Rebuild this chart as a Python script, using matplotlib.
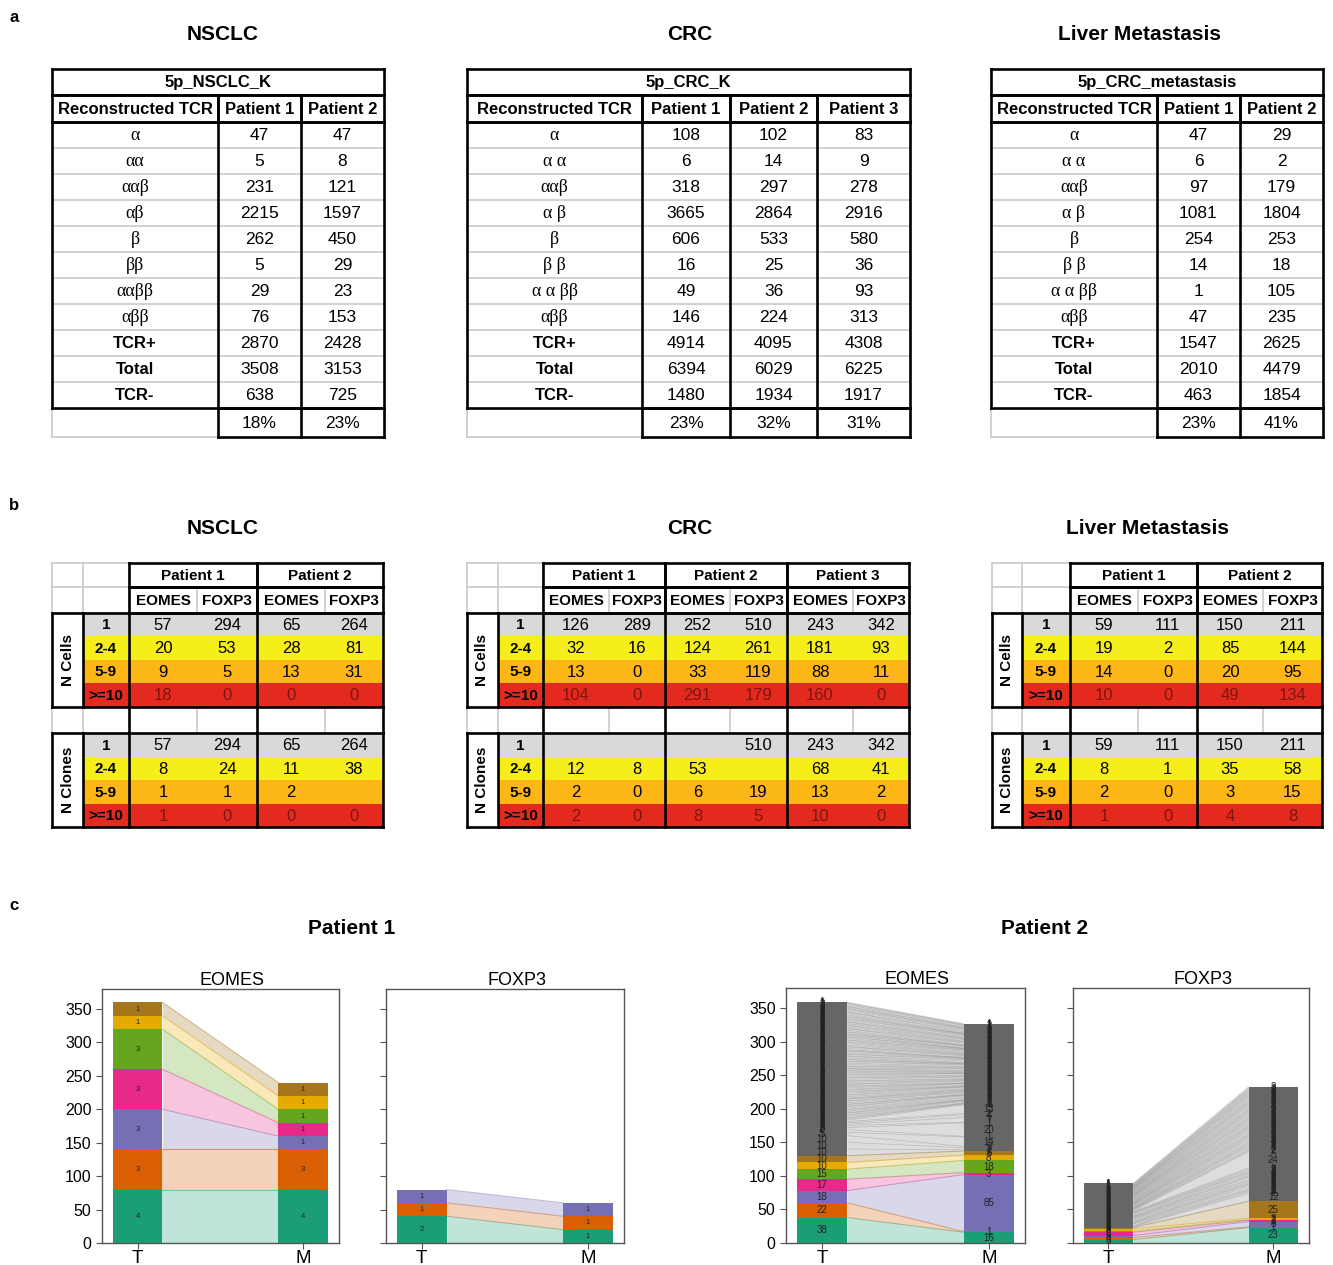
import matplotlib
matplotlib.use('Agg')
import matplotlib.pyplot as plt
from matplotlib.patches import Rectangle
import numpy as np

plt.rcParams['font.family'] = ['Liberation Sans', 'DejaVu Sans']

W, H = 1333, 1265

# ---------------- panel a data ----------------
tcr_rows_nsclc = ['α', 'αα', 'ααβ', 'αβ', 'β', 'ββ', 'ααββ', 'αββ', 'TCR+', 'Total', 'TCR-']
tcr_rows_crc = ['α', 'α α', 'ααβ', 'α β', 'β', 'β β', 'α α ββ', 'αββ', 'TCR+', 'Total', 'TCR-']
nsclc_a_patients = ['Patient 1', 'Patient 2']
nsclc_a_p1 = [47, 5, 231, 2215, 262, 5, 29, 76, 2870, 3508, 638]
nsclc_a_p2 = [47, 8, 121, 1597, 450, 29, 23, 153, 2428, 3153, 725]
nsclc_a_pct = ['18%', '23%']
crc_a_patients = ['Patient 1', 'Patient 2', 'Patient 3']
crc_a_p1 = [108, 6, 318, 3665, 606, 16, 49, 146, 4914, 6394, 1480]
crc_a_p2 = [102, 14, 297, 2864, 533, 25, 36, 224, 4095, 6029, 1934]
crc_a_p3 = [83, 9, 278, 2916, 580, 36, 93, 313, 4308, 6225, 1917]
crc_a_pct = ['23%', '32%', '31%']
liver_a_patients = ['Patient 1', 'Patient 2']
liver_a_p1 = [47, 6, 97, 1081, 254, 14, 1, 47, 1547, 2010, 463]
liver_a_p2 = [29, 2, 179, 1804, 253, 18, 105, 235, 2625, 4479, 1854]
liver_a_pct = ['23%', '41%']

# ---------------- panel b data ----------------
size_bins = ['1', '2-4', '5-9', '>=10']
nsclc_cells_E = [[57, 20, 9, 18], [65, 28, 13, 0]]
nsclc_cells_F = [[294, 53, 5, 0], [264, 81, 31, 0]]
nsclc_clones_E = [[57, 8, 1, 1], [65, 11, 2, 0]]
nsclc_clones_F = [[294, 24, 1, 0], [264, 38, None, 0]]
crc_cells_E = [[126, 32, 13, 104], [252, 124, 33, 291], [243, 181, 88, 160]]
crc_cells_F = [[289, 16, 0, 0], [510, 261, 119, 179], [342, 93, 11, 0]]
crc_clones_E = [[None, 12, 2, 2], [None, 53, 6, 8], [243, 68, 13, 10]]
crc_clones_F = [[None, 8, 0, 0], [510, None, 19, 5], [342, 41, 2, 0]]
liver_cells_E = [[59, 19, 14, 10], [150, 85, 20, 49]]
liver_cells_F = [[111, 2, 0, 0], [211, 144, 95, 134]]
liver_clones_E = [[59, 8, 2, 1], [150, 35, 3, 4]]
liver_clones_F = [[111, 1, 0, 0], [211, 58, 15, 8]]

# ---------------- panel c data ----------------
p1_eomes_T = [80, 60, 60, 60, 60, 20, 20]
p1_eomes_M = [80, 60, 20, 20, 20, 20, 20]
p1_eomes_T_lab = [4, 3, 3, 3, 3, 1, 1]
p1_eomes_M_lab = [4, 3, 1, 1, 1, 1, 1]
p1_foxp3_T = [40, 20, 20]
p1_foxp3_M = [20, 20, 20]
p1_foxp3_T_lab = [2, 1, 1]
p1_foxp3_M_lab = [1, 1, 1]

p2_eomes_T_col = [38, 22, 18, 17, 15, 10, 10]
p2_eomes_M_col = [16, 1, 85, 3, 18, 8, 6]
p2_eomes_T_gray = [10, 10, 10, 5, 4, 3, 3, 2, 2, 2, 2,
                   2, 1, 2, 2, 1, 2, 1, 2, 2, 1,
                   2, 2, 1, 2, 1, 2, 2, 1, 2, 1,
                   1, 2, 2, 1, 2, 2, 1, 2, 1, 2,
                   2, 1, 2, 1, 2, 2, 1, 2, 2, 1,
                   2, 2, 1, 2, 2, 1, 2, 1, 1, 2,
                   1, 2, 2, 2, 1, 2, 1, 2, 2, 1,
                   2, 1, 2, 2, 1, 1, 2, 2, 1, 2,
                   2, 2, 1, 2, 1, 2, 2, 1, 2, 1,
                   1, 2, 1, 2, 2, 1, 2, 2, 1, 2,
                   2, 1, 2, 2, 1, 2, 1, 2, 2, 2,
                   1, 2, 2, 1, 2, 1, 2, 2, 1, 1]
p2_eomes_M_gray = [2, 3, 2, 14, 1, 20, 1, 7, 4, 2, 13,
                   1, 1, 0, 1, 2, 1, 1, 0, 1, 2,
                   1, 2, 1, 1, 0, 1, 2, 1, 1, 1,
                   1, 1, 1, 2, 1, 0, 1, 1, 2, 1,
                   0, 1, 2, 1, 1, 1, 1, 2, 1, 1,
                   1, 2, 1, 0, 1, 1, 1, 1, 2, 1,
                   1, 1, 1, 2, 1, 1, 0, 1, 1, 2,
                   2, 1, 1, 1, 0, 1, 2, 1, 1, 1,
                   1, 1, 2, 1, 1, 1, 1, 0, 1, 2,
                   1, 0, 1, 1, 2, 1, 1, 1, 2, 1,
                   1, 1, 1, 2, 1, 1, 1, 0, 1, 2,
                   1, 2, 1, 1, 1, 1, 2, 1, 1, 1]

p2_foxp3_T_col = [5, 3, 3, 5, 2, 3, 2]
p2_foxp3_M_col = [23, 1, 8, 2, 1, 2, 25]
p2_foxp3_T_gray = [1,
                   1, 1, 2, 1, 1, 1, 1, 1, 2, 1, 1, 1, 1, 1, 1, 2, 1, 1, 1, 1,
                   1,
                   1, 1, 1, 0, 1, 1, 1, 1, 1, 1,
                   1, 1, 0, 1, 1, 1, 1, 1, 1, 1,
                   1, 1, 1, 1, 1, 0, 1, 1, 1, 1,
                   1, 1, 1, 1, 1, 1, 1, 0, 1, 1,
                   1, 1, 1, 1, 1]
p2_foxp3_M_gray = [12,
                   2, 2, 1, 2, 3, 2, 2, 1, 2, 2, 2, 3, 1, 2, 2, 2, 1, 2, 2, 2,
                   24,
                   2, 2, 3, 2, 2, 2, 2, 3, 2, 2,
                   2, 2, 2, 3, 2, 2, 2, 2, 2, 3,
                   2, 2, 2, 2, 3, 2, 2, 2, 2, 2,
                   3, 2, 2, 2, 2, 2, 3, 2, 2, 2,
                   2, 2, 2, 2, 2]

dark2 = ['#1b9e77', '#d95f02', '#7570b3', '#e7298a', '#66a61e', '#e6ab02', '#a6761d']
gray_col = '#666666'

# ---------------- figure ----------------
fig = plt.figure(figsize=(W / 100, H / 100), dpi=100)
ax0 = fig.add_axes([0, 0, 1, 1])
ax0.set_xlim(0, W)
ax0.set_ylim(H, 0)
ax0.axis('off')

THICK = 1.9
THIN_C = '#c9c9c9'


def hl(y, x0, x1, lw=THICK, c='black'):
    ax0.plot([x0, x1], [y, y], color=c, lw=lw, solid_capstyle='projecting', zorder=3 if c == 'black' else 2)


def vl(x, y0, y1, lw=THICK, c='black'):
    ax0.plot([x, x], [y0, y1], color=c, lw=lw, solid_capstyle='projecting', zorder=3 if c == 'black' else 2)


def box(x0, y0, x1, y1, lw=THICK, c='black'):
    hl(y0, x0, x1, lw, c); hl(y1, x0, x1, lw, c); vl(x0, y0, y1, lw, c); vl(x1, y0, y1, lw, c)


def txt(x, y, s, **kw):
    ax0.text(x, y, s, ha='center', va='center', zorder=4, **kw)


# panel letters and section titles
for lt, yy in (('a', 18), ('b', 505), ('c', 905)):
    ax0.text(14, yy, lt, ha='center', va='center', fontsize=12, fontweight='bold')
for name, xx in (('NSCLC', 223), ('CRC', 690), ('Liver Metastasis', 1140)):
    txt(xx, 34, name, fontsize=15, fontweight='bold')
for name, xx in (('NSCLC', 223), ('CRC', 690), ('Liver Metastasis', 1148)):
    txt(xx, 528, name, fontsize=15, fontweight='bold')
txt(352, 928, 'Patient 1', fontsize=15, fontweight='bold')
txt(1045, 928, 'Patient 2', fontsize=15, fontweight='bold')


# ---------------- table a ----------------
def table_a(xe, title, patients, cols, pcts, rowlabels):
    x0, xN = xe[0], xe[-1]
    yt0, yt1, yh1 = 69, 95, 122
    rh = 26
    nrow = len(rowlabels)
    yb1 = yh1 + rh * nrow
    yp1 = yb1 + 29
    for k in range(1, nrow):
        hl(yh1 + rh * k, x0, xN, lw=1.2, c=THIN_C)
    vl(x0, yb1, yp1, lw=1.2, c=THIN_C)
    hl(yp1, x0, xe[1], lw=1.2, c=THIN_C)
    box(x0, yt0, xN, yt1)
    for i in range(len(xe) - 1):
        box(xe[i], yt1, xe[i + 1], yh1)
    box(x0, yh1, xN, yb1)
    for x in xe[1:-1]:
        vl(x, yh1, yb1)
    box(xe[1], yb1, xN, yp1)
    for x in xe[2:-1]:
        vl(x, yb1, yp1)
    txt((x0 + xN) / 2, (yt0 + yt1) / 2, title, fontsize=12, fontweight='bold')
    heads = ['Reconstructed TCR'] + patients
    for i, h in enumerate(heads):
        txt((xe[i] + xe[i + 1]) / 2, (yt1 + yh1) / 2 + 1, h, fontsize=12, fontweight='bold')
    for k, lab in enumerate(rowlabels):
        yc = yh1 + rh * (k + 0.5) + 1
        if k < 8:
            txt((xe[0] + xe[1]) / 2, yc, lab, fontsize=13, family='Liberation Serif')
        else:
            txt((xe[0] + xe[1]) / 2, yc, lab, fontsize=12, fontweight='bold')
        for j, col in enumerate(cols):
            txt((xe[j + 1] + xe[j + 2]) / 2, yc, str(col[k]), fontsize=12.5)
    for j, p in enumerate(pcts):
        txt((xe[j + 1] + xe[j + 2]) / 2, (yb1 + yp1) / 2 + 1, p, fontsize=12.5)


table_a([52, 218, 301, 384], '5p_NSCLC_K', nsclc_a_patients, [nsclc_a_p1, nsclc_a_p2], nsclc_a_pct, tcr_rows_nsclc)
table_a([467, 642, 730, 817, 910], '5p_CRC_K', crc_a_patients, [crc_a_p1, crc_a_p2, crc_a_p3], crc_a_pct, tcr_rows_crc)
table_a([991, 1157, 1240, 1323], '5p_CRC_metastasis', liver_a_patients, [liver_a_p1, liver_a_p2], liver_a_pct, tcr_rows_crc)

# ---------------- table b ----------------
row_fill = ['#d9d9d9', '#f6ee1a', '#fcb615', '#e42a1f']
red_text = '#7e1510'


def table_b(xe, patients, cE, cF, kE, kF):
    x0, c1, c2, xN = xe[0], xe[1], xe[2], xe[-1]
    npat = len(patients)
    pstart = [xe[2 + 2 * i] for i in range(npat)]
    pmid = [xe[3 + 2 * i] for i in range(npat)]
    pend = [xe[4 + 2 * i] for i in range(npat)]
    yP0, yP1, yH1 = 563, 587, 612.5
    rh = 23.5
    ycells = yH1
    yblank0 = ycells + 4 * rh
    yblank1 = yblank0 + 26.5
    yclones = yblank1
    # light grid
    box(x0, yP0, c2, yH1, lw=1.2, c=THIN_C)
    vl(c1, yP0, yH1, lw=1.2, c=THIN_C)
    hl(yP1, x0, c2, lw=1.2, c=THIN_C)
    for m in pmid:
        vl(m, yP1, yH1, lw=1.2, c=THIN_C)
        vl(m, yblank0, yblank1, lw=1.2, c=THIN_C)
    vl(x0, yblank0, yblank1, lw=1.2, c=THIN_C)
    vl(c1, yblank0, yblank1, lw=1.2, c=THIN_C)
    # fills
    for ytop in (ycells, yclones):
        for k in range(4):
            ax0.add_patch(Rectangle((c1, ytop + k * rh), xN - c1, rh, facecolor=row_fill[k],
                                    edgecolor='none', zorder=1))
    # thick borders
    for i in range(npat):
        box(pstart[i], yP0, pend[i], yP1)
        box(pstart[i], yP1, pend[i], yH1)
        vl(pstart[i], yblank0, yblank1)
    vl(xN, yblank0, yblank1)
    for ytop in (ycells, yclones):
        box(x0, ytop, xN, ytop + 4 * rh)
        vl(c1, ytop, ytop + 4 * rh)
        for p in pstart:
            vl(p, ytop, ytop + 4 * rh)
    # texts
    for i, p in enumerate(patients):
        txt((pstart[i] + pend[i]) / 2, (yP0 + yP1) / 2 + 1, p, fontsize=11, fontweight='bold')
        txt((pstart[i] + pmid[i]) / 2, (yP1 + yH1) / 2 + 1, 'EOMES', fontsize=11, fontweight='bold')
        txt((pmid[i] + pend[i]) / 2, (yP1 + yH1) / 2 + 1, 'FOXP3', fontsize=11, fontweight='bold')
    for ytop, lab, E, F in ((ycells, 'N Cells', cE, cF), (yclones, 'N Clones', kE, kF)):
        txt((x0 + c1) / 2, ytop + 2 * rh, lab, fontsize=11, fontweight='bold', rotation=90)
        for k in range(4):
            yc = ytop + (k + 0.5) * rh + 1
            txt((c1 + c2) / 2, yc, size_bins[k], fontsize=11, fontweight='bold')
            colr = red_text if k == 3 else 'black'
            for i in range(npat):
                if E[i][k] is not None:
                    txt((pstart[i] + pmid[i]) / 2, yc, str(E[i][k]), fontsize=12, color=colr)
                if F[i][k] is not None:
                    txt((pmid[i] + pend[i]) / 2, yc, str(F[i][k]), fontsize=12, color=colr)


table_b([52, 83, 129, 197, 257, 325, 383], ['Patient 1', 'Patient 2'],
        nsclc_cells_E, nsclc_cells_F, nsclc_clones_E, nsclc_clones_F)
table_b([467, 498, 543, 609, 665, 730, 787, 853, 909], ['Patient 1', 'Patient 2', 'Patient 3'],
        crc_cells_E, crc_cells_F, crc_clones_E, crc_clones_F)
table_b([992, 1022, 1070, 1138, 1197, 1263, 1322], ['Patient 1', 'Patient 2'],
        liver_cells_E, liver_cells_F, liver_clones_E, liver_clones_F)


# ---------------- panel c ----------------
def px_axes(l, t, r, b):
    return fig.add_axes([l / W, 1 - b / H, (r - l) / W, (b - t) / H])


def alluvial(ax, T, M, colors, Tlab, Mlab, fs, w=0.3):
    T = np.asarray(T, float)
    M = np.asarray(M, float)
    tb = np.concatenate([[0], np.cumsum(T)[:-1]])
    mb = np.concatenate([[0], np.cumsum(M)[:-1]])
    ax.bar(np.zeros(len(T)), T, width=w, bottom=tb, color=colors, linewidth=0, zorder=2)
    ax.bar(np.ones(len(M)), M, width=w, bottom=mb, color=colors, linewidth=0, zorder=2)
    xs = [w / 2, 1 - w / 2]
    for i in range(len(T)):
        is_gray = colors[i] == gray_col
        ax.fill_between(xs, [tb[i], mb[i]], [tb[i] + T[i], mb[i] + M[i]], color=colors[i],
                        alpha=0.22 if is_gray else 0.27, linewidth=0, zorder=1)
        ax.plot(xs, [tb[i] + T[i], mb[i] + M[i]], color=colors[i],
                alpha=0.3 if is_gray else 0.45, lw=0.5 if is_gray else 0.8, zorder=1)
    for i in range(len(T)):
        if Tlab[i]:
            ax.text(0, tb[i] + T[i] / 2, str(Tlab[i]), ha='center', va='center', fontsize=fs,
                    color='#222222', zorder=3)
        if Mlab[i]:
            ax.text(1, mb[i] + M[i] / 2, str(Mlab[i]), ha='center', va='center', fontsize=fs,
                    color='#222222', zorder=3)


def style(ax, title, show_labels):
    ax.set_xlim(-0.215, 1.217)
    ax.set_ylim(0, 380)
    ax.set_yticks([0, 50, 100, 150, 200, 250, 300, 350])
    if not show_labels:
        ax.set_yticklabels([])
    ax.set_xticks([0, 1])
    ax.set_xticklabels(['T', 'M'], fontsize=13.5)
    ax.tick_params(axis='y', labelsize=11.5, color='#555555', length=4)
    ax.tick_params(axis='x', color='#555555', length=4, pad=1)
    for s in ax.spines.values():
        s.set_color('#555555')
        s.set_linewidth(1.0)
    ax.set_title(title, fontsize=13, pad=3, x=0.55)


ax1 = px_axes(102, 989, 339, 1243)
alluvial(ax1, p1_eomes_T, p1_eomes_M, dark2, p1_eomes_T_lab, p1_eomes_M_lab, 5.5)
style(ax1, 'EOMES', True)

ax2 = px_axes(386, 989, 624, 1243)
alluvial(ax2, p1_foxp3_T, p1_foxp3_M, dark2[:3], p1_foxp3_T_lab, p1_foxp3_M_lab, 5.5)
style(ax2, 'FOXP3', False)

ax3 = px_axes(786, 988, 1025, 1243)
T3 = p2_eomes_T_col + p2_eomes_T_gray
M3 = p2_eomes_M_col + p2_eomes_M_gray
c3 = dark2 + [gray_col] * len(p2_eomes_T_gray)
alluvial(ax3, T3, M3, c3, T3, M3, 7)
style(ax3, 'EOMES', True)

ax4 = px_axes(1073, 988, 1309, 1243)
T4 = p2_foxp3_T_col + p2_foxp3_T_gray
M4 = p2_foxp3_M_col + p2_foxp3_M_gray
c4 = dark2 + [gray_col] * len(p2_foxp3_T_gray)
alluvial(ax4, T4, M4, c4, T4, M4, 7)
style(ax4, 'FOXP3', False)

fig.savefig('out.png', dpi=100)
